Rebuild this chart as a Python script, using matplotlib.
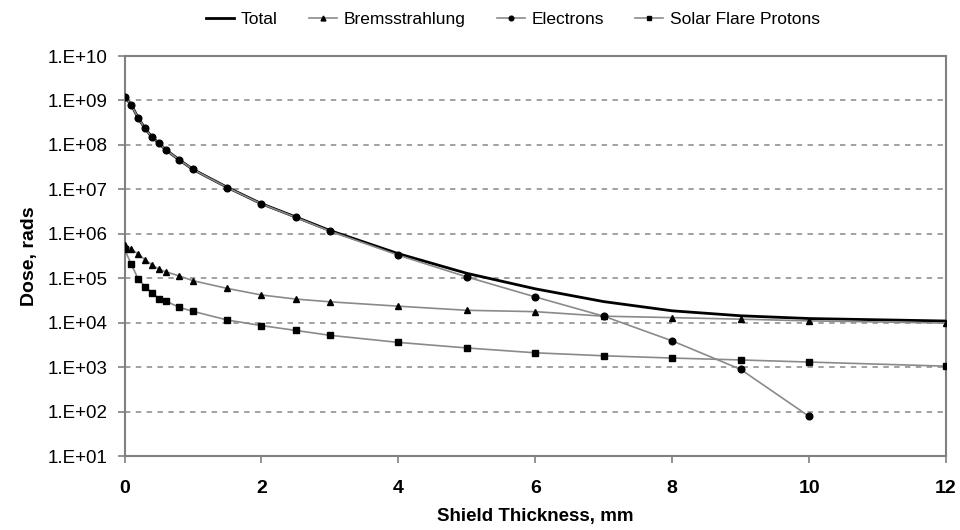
import math
import matplotlib
matplotlib.use("Agg")
import matplotlib.pyplot as plt
from matplotlib.ticker import FixedLocator, FuncFormatter, NullLocator

plt.rcParams['font.family'] = ['Liberation Sans', 'DejaVu Sans']

# Shield thickness, mm
thickness = [0, 0.1, 0.2, 0.3, 0.4, 0.5, 0.6, 0.8, 1.0, 1.5, 2, 2.5, 3,
             4, 5, 6, 7, 8, 9, 10, 12]

# Dose, rads
electrons = [1.2e9, 8.0e8, 4.0e8, 2.35e8, 1.5e8, 1.1e8, 7.8e7, 4.6e7, 2.8e7,
             1.1e7, 4.7e6, 2.35e6, 1.15e6, 3.3e5, 1.07e5, 3.8e4, 1.4e4,
             3.9e3, 890, 78]
bremsstrahlung = [5.6e5, 4.5e5, 3.5e5, 2.6e5, 2.0e5, 1.6e5, 1.4e5, 1.13e5,
                  8.8e4, 5.9e4, 4.2e4, 3.4e4, 2.95e4, 2.35e4, 1.9e4, 1.77e4,
                  1.4e4, 1.3e4, 1.2e4, 1.1e4, 9.8e3]
protons = [4.5e5, 2.05e5, 9.6e4, 6.5e4, 4.7e4, 3.5e4, 3.1e4, 2.2e4, 1.8e4,
           1.15e4, 8.6e3, 6.7e3, 5.2e3, 3.6e3, 2.7e3, 2.1e3, 1.8e3, 1.6e3,
           1.45e3, 1.3e3, 1.05e3]
total = [1.201e9, 8.007e8, 4.004e8, 2.353e8, 1.502e8, 1.102e8, 7.82e7,
         4.61e7, 2.81e7, 1.11e7, 4.75e6, 2.39e6, 1.185e6, 3.57e5, 1.29e5,
         5.78e4, 2.98e4, 1.85e4, 1.43e4, 1.24e4, 1.09e4]

y_exponents = list(range(1, 11))
x_ticks = [0, 2, 4, 6, 8, 10, 12]

fig = plt.figure(figsize=(9.6, 5.3), dpi=100)
ax = fig.add_axes([0.1297, 0.1396, 0.8557, 0.7547])

series_gray = '#8a8a8a'
ax.plot(thickness, total, color='black', lw=2.0, label='Total', zorder=3)
ax.plot(thickness, bremsstrahlung, color=series_gray, lw=1.2, marker='^',
        ms=5.0, mfc='black', mec='black', label='Bremsstrahlung', zorder=4)
ax.plot(thickness[:len(electrons)], electrons, color=series_gray, lw=1.2,
        marker='o', ms=4.8, mfc='black', mec='black', label='Electrons',
        zorder=4)
ax.plot(thickness, protons, color=series_gray, lw=1.2, marker='s', ms=4.4,
        mfc='black', mec='black', label='Solar Flare Protons', zorder=4)

ax.set_yscale('log')
ax.set_ylim(1e1, 1e10)
ax.set_xlim(0, 12)
ax.yaxis.set_major_locator(FixedLocator([10.0 ** e for e in y_exponents]))
ax.yaxis.set_minor_locator(NullLocator())
ax.yaxis.set_major_formatter(
    FuncFormatter(lambda v, p: '1.E+%02d' % round(math.log10(v))))
ax.xaxis.set_major_locator(FixedLocator(x_ticks))
ax.set_xticklabels([str(t) for t in x_ticks], fontweight='bold')

for e in y_exponents[1:-1]:
    ax.axhline(10.0 ** e, color='#9a9a9a', lw=1.3, ls=(0, (3, 3)), zorder=1)

for s in ax.spines.values():
    s.set_color('#808080')
    s.set_linewidth(1.5)

ax.tick_params(axis='both', direction='out', length=5, width=1.2,
               color='#808080', labelcolor='black')
ax.tick_params(axis='y', labelsize=13.5, pad=7)
ax.tick_params(axis='x', labelsize=14, pad=12)

ax.set_ylabel('Dose, rads', fontsize=14, fontweight='bold', labelpad=7)
ax.set_xlabel('Shield Thickness, mm', fontsize=13.5, fontweight='bold',
              labelpad=8)

ax.legend(loc='lower center', bbox_to_anchor=(0.473, 1.055), ncol=4,
          frameon=False, fontsize=12.5, handlelength=1.6, handletextpad=0.4,
          columnspacing=1.8, markerscale=0.7, borderaxespad=0)

fig.savefig('out.png', dpi=100, facecolor='white')
